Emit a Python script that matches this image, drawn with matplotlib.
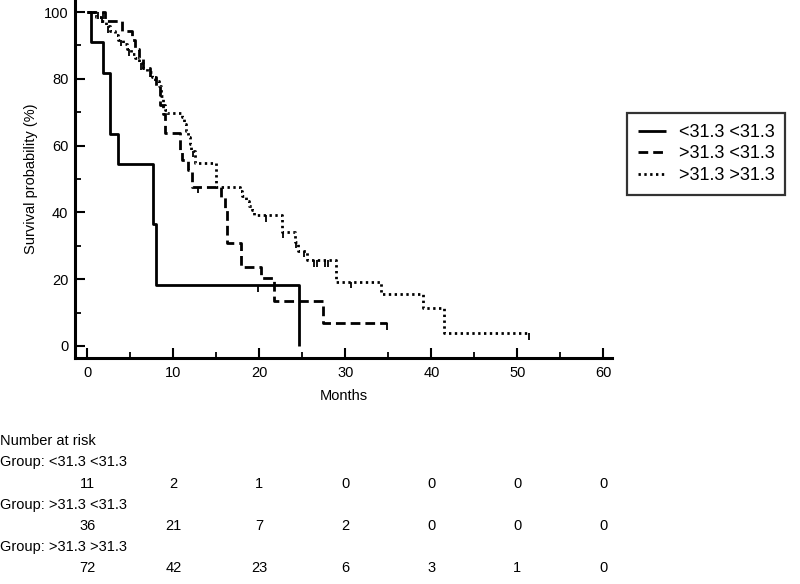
import matplotlib
matplotlib.use("Agg")
import matplotlib.pyplot as plt
from matplotlib.ticker import MultipleLocator
from matplotlib.transforms import blended_transform_factory

plt.rcParams['font.family'] = ['Liberation Sans', 'DejaVu Sans']
plt.rcParams['lines.scale_dashes'] = False

# ---- data ----
labels = ["<31.3 <31.3", ">31.3 <31.3", ">31.3 >31.3"]

solid_t = [0, 0.45, 1.8, 2.7, 3.6, 7.6, 8.0, 24.6]
solid_s = [100, 90.9, 81.8, 63.6, 54.5, 36.4, 18.2, 0]
solid_ct = [19.9]
solid_cs = [18.2]

dashed_t = [0, 2.1, 4.0, 5.2, 5.6, 6.0, 6.5, 7.3, 8.0, 8.5, 8.8, 9.0, 10.8, 11.0,
            11.7, 12.2, 15.6, 16.0, 16.2, 17.9, 20.2, 21.7, 27.4, 34.9]
dashed_s = [100, 97.2, 94.4, 91.7, 88.9, 86.1, 83.3, 80.6, 77.8, 72.2, 69.4, 63.9, 58.3, 55.6,
            52.8, 47.7, 44.5, 41.3, 30.7, 23.7, 20.3, 13.6, 6.8, 6.8]
dashed_ct = [1.3, 1.8, 12.9, 34.9]
dashed_cs = [100, 100, 47.7, 6.8]

dotted_t = [0, 1.0, 1.6, 2.2, 2.7, 3.2, 3.6, 4.1, 4.6, 5.1, 5.6, 6.0, 6.5, 7.0, 7.5, 7.9,
            8.3, 8.6, 8.8, 9.0, 9.3, 11.0, 11.3, 11.5, 11.7, 11.9, 12.1, 12.5, 15.0, 17.7,
            18.0, 18.4, 18.8, 19.1, 19.4, 22.6, 24.1, 24.5, 25.5, 28.9, 34.1, 39.0, 41.5, 51.3]
dotted_s = [100, 98.6, 97.2, 95.8, 94.4, 93.1, 91.7, 90.3, 88.9, 87.5, 86.1, 84.7, 83.3, 81.9,
            80.6, 79.2, 77.8, 75.0, 72.2, 70.8, 69.9, 68.5, 66.5, 64.5, 62.6, 60.5, 58.5, 54.7,
            47.7, 46.3, 44.9, 43.5, 42.0, 40.6, 39.2, 34.2, 31.2, 28.5, 25.7, 19.3, 15.5, 11.3,
            3.8, 3.8]
dotted_ct = [1.7, 2.4, 3.9, 4.8, 6.3, 12.3, 20.8, 22.8, 24.3, 25.2, 26.4, 26.7, 27.6, 28.0,
             30.7, 51.3]
dotted_cs = [98.6, 95.8, 91.7, 88.9, 84.7, 58.5, 39.2, 34.2, 31.2, 28.5, 25.7, 25.7, 25.7,
             25.7, 19.3, 3.8]

risk_times = [0, 10, 20, 30, 40, 50, 60]
risk_g1 = [11, 2, 1, 0, 0, 0, 0]
risk_g2 = [36, 21, 7, 2, 0, 0, 0]
risk_g3 = [72, 42, 23, 6, 3, 1, 0]

# ---- figure ----
fig = plt.figure(figsize=(8, 5.84), dpi=100)
ax = fig.add_axes([0.094, 0.387, 0.671, 0.613])

FS = 10.5
LFS = 13
lw = 2.0
styles = [dict(linestyle='-'),
          dict(linestyle=(0, (7.0, 3.6))),
          dict(linestyle=(0, (1.7, 2.5)))]
series = [(solid_t, solid_s, solid_ct, solid_cs),
          (dashed_t, dashed_s, dashed_ct, dashed_cs),
          (dotted_t, dotted_s, dotted_ct, dotted_cs)]

handles = []
for (t, s, ct, cs), st, lab in zip(series, styles, labels):
    h, = ax.step(t, s, where='post', color='black', lw=lw, label=lab,
                 dash_capstyle='butt', solid_capstyle='butt', **st)
    handles.append(h)
    ax.vlines(ct, [v - 2.0 for v in cs], cs, color='black', lw=1.3)

ax.set_xlim(-1.4, 61)
ax.set_ylim(-3.6, 103.6)
ax.xaxis.set_major_locator(MultipleLocator(10))
ax.xaxis.set_minor_locator(MultipleLocator(5))
ax.yaxis.set_major_locator(MultipleLocator(20))
ax.yaxis.set_minor_locator(MultipleLocator(10))
ax.tick_params(which='major', direction='in', length=7, width=1.5, labelsize=FS, pad=5)
ax.tick_params(which='minor', direction='in', length=4, width=1.3)
ax.tick_params(axis='x', which='major', pad=6)
for sp in ['top', 'right']:
    ax.spines[sp].set_visible(False)
for sp in ['left', 'bottom']:
    ax.spines[sp].set_linewidth(2.2)

ax.set_xlabel("Months", fontsize=FS, labelpad=6)
ax.set_ylabel("Survival probability (%)", fontsize=FS, labelpad=4)

leg = fig.legend(handles=handles, labels=labels, loc='upper left',
                 bbox_to_anchor=(0.784, 0.8065), bbox_transform=fig.transFigure,
                 fontsize=LFS, frameon=True, fancybox=False, edgecolor='black',
                 handlelength=1.55, handletextpad=0.7, labelspacing=0.25,
                 borderpad=0.6, borderaxespad=0)
leg.get_frame().set_linewidth(1.6)

# ---- number at risk table ----
tr = blended_transform_factory(ax.transData, fig.transFigure)
fig.text(0.0, 1 - 441 / 584, "Number at risk", fontsize=FS, ha='left', va='center')
rows = [risk_g1, risk_g2, risk_g3]
for i, (lab, vals) in enumerate(zip(labels, rows)):
    yg = 1 - (462 + i * 42.5) / 584
    yv = 1 - (483.5 + i * 42.5) / 584
    fig.text(0.0, yg, "Group: " + lab, fontsize=FS, ha='left', va='center')
    for tt, v in zip(risk_times, vals):
        fig.text(tt, yv, str(v), fontsize=FS, ha='center', va='center', transform=tr)

fig.savefig("out.png", dpi=100)
